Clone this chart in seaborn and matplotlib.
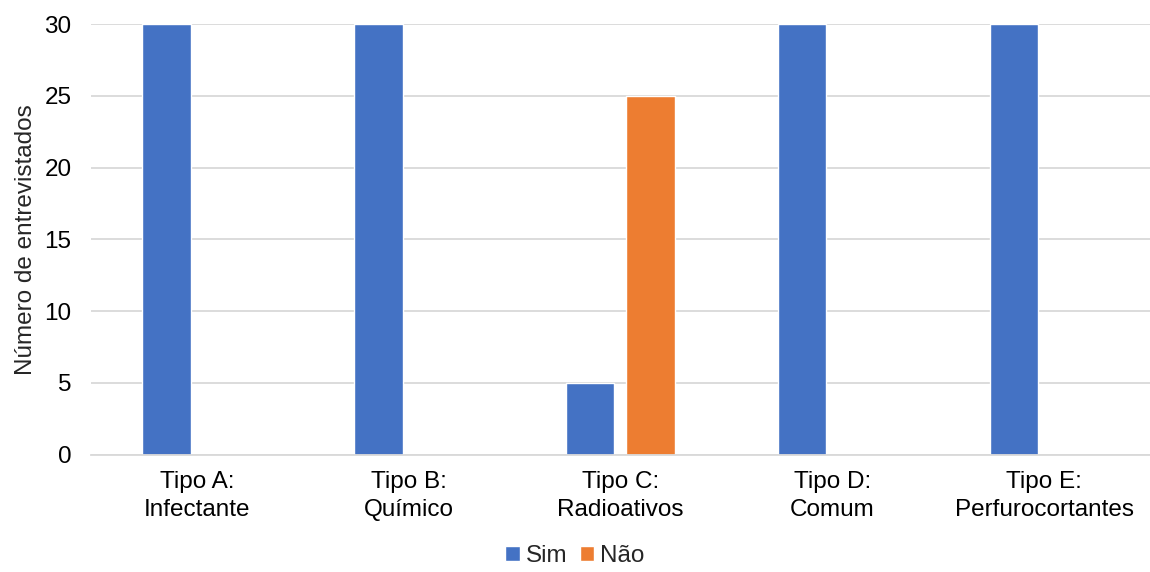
import matplotlib
matplotlib.use("Agg")
import matplotlib.pyplot as plt
import seaborn as sns
import pandas as pd
from matplotlib.patches import Patch

categories = ["Tipo A:\nInfectante", "Tipo B:\nQuímico", "Tipo C:\nRadioativos",
              "Tipo D:\nComum", "Tipo E:\nPerfurocortantes"]
sim = [30, 30, 5, 30, 30]
nao = [0, 0, 25, 0, 0]
series = ["Sim", "Não"]
colors = ["#4472C4", "#ED7D31"]

df = pd.DataFrame({
    "cat": categories * 2,
    "val": sim + nao,
    "serie": [series[0]] * len(categories) + [series[1]] * len(categories),
})

sns.set_theme(style="white")
plt.rcParams["font.family"] = ["Liberation Sans", "DejaVu Sans"]

FS = 17.5
fig = plt.figure(figsize=(11.5, 5.72), dpi=100)
ax = fig.add_axes([0.079, 0.205, 0.921, 0.753])

sns.barplot(data=df, x="cat", y="val", hue="serie", palette=colors,
            width=0.57, gap=0.2, ax=ax, legend=False, saturation=1)

ax.set_ylim(0, 30)
ax.set_yticks([0, 5, 10, 15, 20, 25, 30])
ax.set_xlim(-0.5, 4.5)
ax.yaxis.grid(True, color="#d9d9d9", linewidth=1.3)
ax.set_axisbelow(True)
for s in ["top", "right", "left"]:
    ax.spines[s].set_visible(False)
ax.spines["bottom"].set_color("#d9d9d9")
ax.spines["bottom"].set_linewidth(1.3)
ax.tick_params(axis="both", length=0, labelsize=FS, colors="#000000")
ax.tick_params(axis="x", pad=12)
ax.tick_params(axis="y", pad=14)
ax.set_xlabel("")
ax.set_ylabel("Número de entrevistados", fontsize=FS, labelpad=5)
for lbl in ax.get_xticklabels():
    lbl.set_linespacing(1.3)

handles = [Patch(facecolor=c, label=s) for c, s in zip(colors, series)]
fig.legend(handles=handles, loc="lower center", bbox_to_anchor=(0.5, -0.03),
           ncol=2, frameon=False, fontsize=FS, handlelength=0.6,
           handleheight=0.6, handletextpad=0.25, columnspacing=0.5)

fig.savefig("out.png", dpi=100)
